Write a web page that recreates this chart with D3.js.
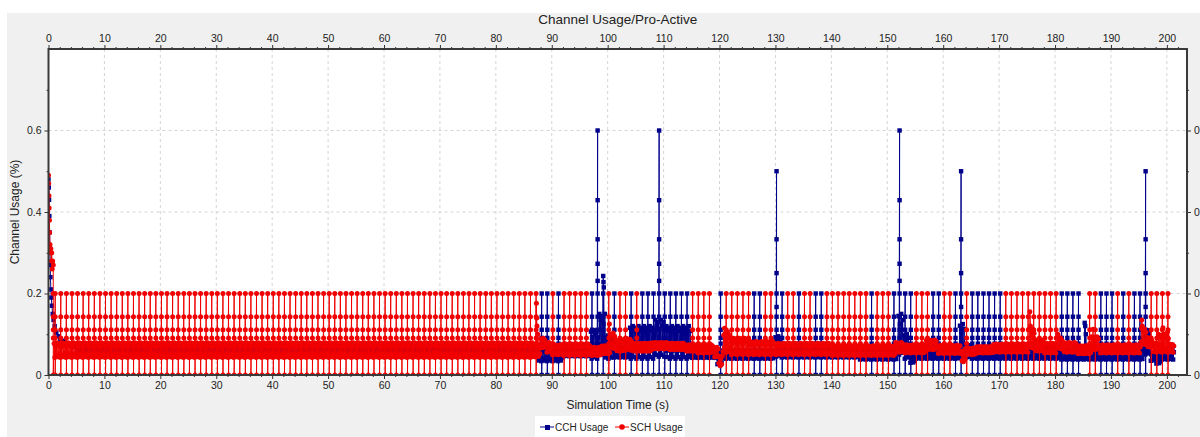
<!DOCTYPE html>
<html>
<head>
<meta charset="utf-8">
<script src="https://cdn.jsdelivr.net/npm/d3@7"></script>
<style>
  body { margin: 0; background: #fff; }
  svg { display: block; font-family: "Liberation Sans", Arial, sans-serif; }
</style>
</head>
<body>
<svg id="chart" width="1200" height="437"></svg>
<script>
// ---- data ----
const chartTitle = "Channel Usage/Pro-Active";
const xTitle = "Simulation Time (s)";
const yTitle = "Channel Usage (%)";
const seriesNames = ["CCH Usage", "SCH Usage"];
const xTicks = [0, 10, 20, 30, 40, 50, 60, 70, 80, 90, 100, 110, 120, 130, 140, 150, 160, 170, 180, 190, 200];
const yTicks = [0, 0.2, 0.4, 0.6];

// levels hit by each once-a-second sweep (1/5, 1/7, 1/9, 1/11, 1/13, 0)
const sweepLevels = [0.2, 0.143, 0.111, 0.091, 0.077, 0];
// which series sweeps in each second (index = second), C = CCH, S = SCH
const sweepOwner = [
  "-SSSSSSSSS", "SSSSSSSSSS", "SSSSSSSSSS", "SSSSSSSSSS", "SSSSSSSSSS",
  "SSSSSSSSSS", "SSSSSSSSSS", "SSSSSSSSSS", "SSSSSSSSCC", "SCSSSSSCCC",
  "SCSSCSCCCC", "CCCCCSSSS-", "CSSSSSCCSS", "CCSSCSSCCS", "SSSSSSSCSS",
  "SCCCCSSSCC", "SSCCSCCCCC", "CSSSSSSSSS", "SCCCC-SSCC", "CSCSCCCSSS",
  "S"
];
// tall CCH sweeps: [second, values above 0.2]
const cchTall = [
  [98, [0.6, 0.429, 0.333, 0.273, 0.231]],
  [109, [0.6, 0.429, 0.333, 0.273, 0.231]],
  [130, [0.5, 0.333, 0.25, 0.167]],
  [152, [0.6, 0.429, 0.333, 0.273, 0.231]],
  [163, [0.5, 0.333, 0.25, 0.167]],
  [196, [0.5, 0.333, 0.25, 0.167]]
];

// opening decay [time, value]
const schStart = [[0, 0.49], [0.04, 0.47], [0.08, 0.44], [0.12, 0.41], [0.16, 0.38], [0.2, 0.35],
  [0.26, 0.32], [0.34, 0.3], [0.42, 0.31], [0.5, 0.28], [0.58, 0.3], [0.66, 0.26], [0.74, 0.28],
  [0.85, 0.27], [0.85, 0.2], [0.85, 0.143], [0.85, 0.111], [0.85, 0.091], [0.85, 0]];
const cchStart = [[0, 0.48], [0.05, 0.46], [0.1, 0.43], [0.15, 0.39], [0.2, 0.35], [0.25, 0.31],
  [0.3, 0.27], [0.35, 0.24], [0.42, 0.21], [0.5, 0.19], [0.6, 0.17], [0.75, 0.15], [0.9, 0.135],
  [1.1, 0.12], [1.4, 0.104], [1.8, 0.095], [2.1, 0.088], [2.7, 0.084], [3.3, 0.078],
  [3.9, 0.073], [4.8, 0.069]];

// busy band between sweeps: [from time, centre, half height]
const schBand = [
  [0.85, 0.061, 0.018], [87, 0.06, 0.016], [88, 0.078, 0.012], [89, 0.068, 0.012],
  [90, 0.062, 0.012], [92, 0.062, 0.014], [97, 0.058, 0.01], [99, 0.062, 0.01],
  [100.6, 0.085, 0.02], [101.5, 0.072, 0.014], [103, 0.075, 0.014], [104.5, 0.068, 0.01],
  [108, 0.072, 0.008], [111, 0.07, 0.008], [114, 0.066, 0.008], [116, 0.064, 0.01],
  [119, 0.056, 0.012], [119.8, 0.035, 0.012], [120.6, 0.08, 0.025], [122, 0.07, 0.02],
  [125, 0.066, 0.016], [130, 0.064, 0.014], [140, 0.06, 0.012], [151.5, 0.068, 0.012],
  [153, 0.064, 0.01], [157, 0.074, 0.012], [159, 0.063, 0.01], [163.2, 0.045, 0.014],
  [164, 0.058, 0.008], [166, 0.062, 0.008], [169, 0.066, 0.01], [175.3, 0.09, 0.025],
  [176.5, 0.072, 0.014], [178, 0.066, 0.012], [180.3, 0.078, 0.014], [181.5, 0.068, 0.012],
  [184, 0.062, 0.01], [186.5, 0.078, 0.016], [188, 0.064, 0.01], [195.3, 0.095, 0.02],
  [196.5, 0.08, 0.012], [197.5, 0.068, 0.012], [198.3, 0.078, 0.022], [200.5, 0.066, 0.01]
];
const cchBand = [
  [4.8, 0.06, 0.015], [87.5, 0.05, 0.016], [92, 0.056, 0.01], [97, 0.075, 0.035],
  [98.5, 0.1, 0.05], [99.6, 0.07, 0.03], [101, 0.055, 0.012], [104, 0.08, 0.04],
  [108.5, 0.09, 0.045], [110.5, 0.08, 0.04], [114.8, 0.052, 0.01], [119.5, 0.04, 0.015],
  [120.5, 0.05, 0.01], [129.8, 0.07, 0.025], [131, 0.055, 0.012], [145, 0.05, 0.012],
  [151.8, 0.1, 0.05], [152.8, 0.07, 0.03], [154, 0.038, 0.008], [155, 0.05, 0.01],
  [162.8, 0.085, 0.04], [163.8, 0.058, 0.015], [165, 0.052, 0.012], [181, 0.05, 0.012],
  [195.8, 0.08, 0.03], [197, 0.045, 0.01], [198, 0.038, 0.01], [199, 0.05, 0.012]
];
// shape of the swing inside one second (8 samples)
const bandWiggle = [0.9, -1, 0.5, -0.7, 1, -0.9, 0.7, -0.5];

// isolated bumps [time, value]
const schPeaks = [[87.25, 0.176], [87.3, 0.14], [87.35, 0.12], [87.5, 0.1], [100.3, 0.125],
  [100.4, 0.1], [120.9, 0.115], [175.5, 0.155], [175.6, 0.12], [180.5, 0.1], [186.8, 0.112],
  [195.5, 0.135], [195.6, 0.12], [199.3, 0.116], [200.1, 0.105]];
const cchPeaks = [[99.2, 0.243], [99.25, 0.228], [99.3, 0.215], [185.3, 0.128],
  [185.4, 0.12], [185.5, 0.1]];

// ---- layout ----
const W = 1200, H = 437;
const plot = { left: 48.5, right: 1187, top: 49, bottom: 375 };
const sweepOffset = 0.2;

const svg = d3.select("#chart");
svg.append("rect").attr("x", 7).attr("y", 13).attr("width", W - 7).attr("height", H - 13).attr("fill", "#f0f0f0");
svg.append("rect").attr("x", plot.left).attr("y", plot.top)
  .attr("width", plot.right - plot.left).attr("height", plot.bottom - plot.top).attr("fill", "#fff");

const x = d3.scaleLinear().domain([0, 203.6]).range([plot.left, plot.right]);
const y = d3.scaleLinear().domain([0, 0.8]).range([plot.bottom, plot.top]);

// grid
const grid = svg.append("g").attr("stroke", "#d4d4d4").attr("stroke-dasharray", "3,3");
grid.selectAll("line.gx").data(xTicks.slice(1)).join("line")
  .attr("x1", d => x(d)).attr("x2", d => x(d)).attr("y1", plot.top).attr("y2", plot.bottom);
grid.selectAll("line.gy").data(yTicks.slice(1)).join("line")
  .attr("x1", plot.left).attr("x2", plot.right).attr("y1", d => y(d)).attr("y2", d => y(d));

// build a series in time order
function buildSeries(startPts, bandKeys, owner, tall, peaks) {
  const pts = startPts.map(d => ({ t: d[0], v: d[1] }));
  const tStart = startPts[startPts.length - 1][0];
  const owners = sweepOwner.join("");
  for (let s = 1; s <= 201; s++) {
    bandWiggle.forEach((w, k) => {
      const t = s + k / bandWiggle.length;
      if (t <= tStart || t > 201.3) return;
      const key = bandKeys.filter(b => b[0] <= t).pop();
      pts.push({ t: t, v: key[1] + key[2] * w });
    });
    if (owners[s] === owner) {
      const top = tall.find(d => d[0] === s);
      (top ? top[1] : []).concat(sweepLevels).forEach(v => pts.push({ t: s + sweepOffset, v: v }));
    }
  }
  peaks.forEach(d => pts.push({ t: d[0], v: d[1] }));
  return pts.sort((a, b) => a.t - b.t);
}

const cch = buildSeries(cchStart, cchBand, "C", cchTall, cchPeaks);
const sch = buildSeries(schStart, schBand, "S", [], schPeaks);

svg.append("clipPath").attr("id", "clip").append("rect")
  .attr("x", plot.left).attr("y", plot.top - 3)
  .attr("width", plot.right - plot.left).attr("height", plot.bottom - plot.top + 3);
const area = svg.append("g").attr("clip-path", "url(#clip)");
const line = d3.line().x(d => x(d.t)).y(d => y(d.v));

const blue = "#00008b", red = "#f00000";
area.append("path").datum(cch).attr("d", line).attr("fill", "none").attr("stroke", blue).attr("stroke-width", 1);
area.append("g").selectAll("rect").data(cch).join("rect")
  .attr("x", d => x(d.t) - 2.2).attr("y", d => y(d.v) - 2.2).attr("width", 4.4).attr("height", 4.4).attr("fill", blue);
area.append("path").datum(sch).attr("d", line).attr("fill", "none").attr("stroke", red).attr("stroke-width", 1);
area.append("g").selectAll("circle").data(sch).join("circle")
  .attr("cx", d => x(d.t)).attr("cy", d => y(d.v)).attr("r", 2.5).attr("fill", red);

// frame
svg.append("rect").attr("x", plot.left).attr("y", plot.top)
  .attr("width", plot.right - plot.left).attr("height", plot.bottom - plot.top)
  .attr("fill", "none").attr("stroke", "#3a3a3a").attr("stroke-width", 2);

// axes
const xMinor = d3.range(0, 204, 2).filter(d => d % 10 !== 0);
const yMinor = [0.1, 0.3, 0.5, 0.7];
function styleAxis(g) {
  g.select(".domain").remove();
  g.selectAll("line").attr("stroke", "#333");
  g.selectAll("text").attr("fill", "#222").attr("font-size", 10.5)
    .attr("font-family", "'Liberation Sans', Arial, sans-serif");
}
[[d3.axisTop, plot.top], [d3.axisBottom, plot.bottom]].forEach(([ax, yy]) => {
  svg.append("g").attr("transform", `translate(0,${yy})`)
    .call(ax(x).tickValues(xTicks).tickSize(4).tickPadding(3).tickFormat(d3.format("d"))).call(styleAxis);
  svg.append("g").attr("transform", `translate(0,${yy})`)
    .call(ax(x).tickValues(xMinor).tickSize(2).tickFormat("")).call(styleAxis);
});
[[d3.axisLeft, plot.left], [d3.axisRight, plot.right]].forEach(([ax, xx]) => {
  svg.append("g").attr("transform", `translate(${xx},0)`)
    .call(ax(y).tickValues(yTicks).tickSize(4).tickPadding(3).tickFormat(d => d === 0 ? "0" : d3.format(".1f")(d))).call(styleAxis);
  svg.append("g").attr("transform", `translate(${xx},0)`)
    .call(ax(y).tickValues(yMinor).tickSize(2).tickFormat("")).call(styleAxis);
});

// titles
const cx = (plot.left + plot.right) / 2;
svg.append("text").attr("x", cx).attr("y", 23.5).attr("text-anchor", "middle")
  .attr("font-size", 13.5).attr("fill", "#222").text(chartTitle);
svg.append("text").attr("x", cx).attr("y", 409).attr("text-anchor", "middle")
  .attr("font-size", 12).attr("fill", "#222").text(xTitle);
svg.append("text").attr("transform", `translate(19,${(plot.top + plot.bottom) / 2}) rotate(-90)`)
  .attr("text-anchor", "middle").attr("font-size", 12).attr("fill", "#222").text(yTitle);

// legend
const lg = svg.append("g");
lg.append("rect").attr("x", 535).attr("y", 416).attr("width", 150).attr("height", 21).attr("fill", "#fff");
const items = [
  { name: seriesNames[0], color: blue, x0: 540, shape: "square" },
  { name: seriesNames[1], color: red, x0: 615, shape: "circle" }
];
items.forEach(it => {
  lg.append("line").attr("x1", it.x0).attr("x2", it.x0 + 14).attr("y1", 427).attr("y2", 427)
    .attr("stroke", it.color).attr("stroke-width", 1);
  if (it.shape === "square") {
    lg.append("rect").attr("x", it.x0 + 5).attr("y", 425).attr("width", 5).attr("height", 5).attr("fill", it.color);
  } else {
    lg.append("circle").attr("cx", it.x0 + 7).attr("cy", 427).attr("r", 2.8).attr("fill", it.color);
  }
  lg.append("text").attr("x", it.x0 + 15).attr("y", 430.5).attr("font-size", 10)
    .attr("fill", "#222").text(it.name);
});
</script>
</body>
</html>
